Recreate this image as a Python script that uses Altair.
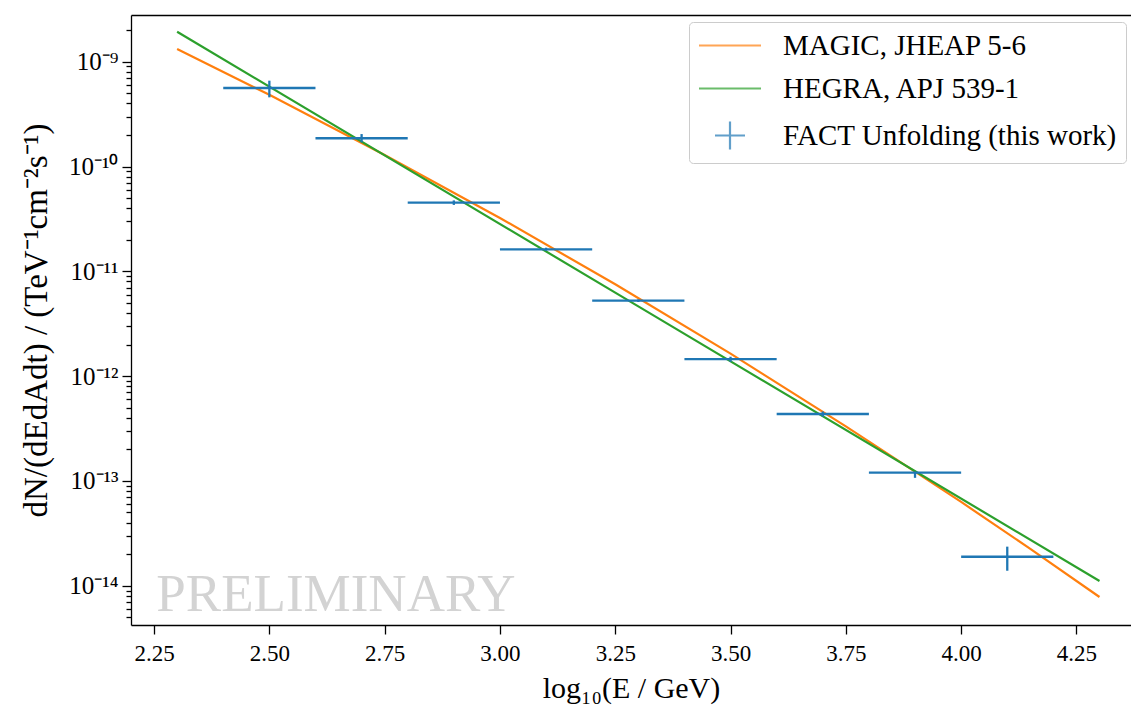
import math
import altair as alt
import pandas as pd

# ---------------- data ----------------
magic_name = "MAGIC, JHEAP 5-6"
hegra_name = "HEGRA, APJ 539-1"
fact_name = "FACT Unfolding (this work)"

magic_x = [2.3, 2.5, 2.75, 3.0, 3.25, 3.5, 3.75, 4.0, 4.15, 4.3]
magic_y = [1.32e-9, 4.83e-10, 1.29e-10, 3.23e-11, 7.52e-12, 1.64e-12, 3.32e-13, 6.30e-14, 2.25e-14, 7.81e-15]

hegra_x = [2.3, 3.3, 4.3]
hegra_y = [1.93e-9, 4.63e-12, 1.11e-14]

fact_x = [2.5, 2.7, 2.9, 3.1, 3.3, 3.5, 3.7, 3.9, 4.1]
fact_xerr = [0.1, 0.1, 0.1, 0.1, 0.1, 0.1, 0.1, 0.1, 0.1]
fact_y = [5.61e-10, 1.86e-10, 4.52e-11, 1.62e-11, 5.25e-12, 1.45e-12, 4.35e-13, 1.20e-13, 1.89e-14]
fact_ylo = [4.57e-10, 1.70e-10, 4.30e-11, 1.57e-11, 5.10e-12, 1.37e-12, 4.10e-13, 1.07e-13, 1.39e-14]
fact_yhi = [6.59e-10, 2.04e-10, 4.75e-11, 1.68e-11, 5.40e-12, 1.53e-12, 4.60e-13, 1.22e-13, 2.36e-14]

x_ticks = [2.25, 2.50, 2.75, 3.00, 3.25, 3.50, 3.75, 4.00, 4.25]
y_major_ticks = [1e-9, 1e-10, 1e-11, 1e-12, 1e-13, 1e-14]
y_major_labels = ["10⁻⁹", "10⁻¹⁰", "10⁻¹¹", "10⁻¹²", "10⁻¹³", "10⁻¹⁴"]
y_minor_mult = [2, 3, 4, 5, 6, 7, 8, 9]

x_domain = [2.2, 4.3683]
y_domain = [4.22e-15, 2.79e-9]

watermark_text = ["PRELIMINARY"]
watermark_x = [2.255]
watermark_y = [5.74e-15]

# ---------------- styling ----------------
SERIF = "Liberation Serif"
C_MAGIC = "#ff7f0e"
C_HEGRA = "#2ca02c"
C_FACT = "#1f77b4"

y_minor_ticks = [m * d for d in [1e-15] + y_major_ticks for m in y_minor_mult
                 if y_domain[0] <= m * d <= y_domain[1]]

label_expr = " : ".join(
    f"round(log(datum.value)/LN10) == {round(math.log10(v))} ? '{t}'"
    for v, t in zip(y_major_ticks, y_major_labels)
) + " : ''"

magic_df = pd.DataFrame({"x": magic_x, "y": magic_y})
hegra_df = pd.DataFrame({"x": hegra_x, "y": hegra_y})
fact_df = pd.DataFrame({
    "x": fact_x,
    "x_lo": [a - b for a, b in zip(fact_x, fact_xerr)],
    "x_hi": [a + b for a, b in zip(fact_x, fact_xerr)],
    "y": fact_y, "y_lo": fact_ylo, "y_hi": fact_yhi,
    "series": [fact_name] * len(fact_x),
})
wm_df = pd.DataFrame({"x": watermark_x, "y": watermark_y, "t": watermark_text})

xscale = alt.Scale(domain=x_domain, nice=False, zero=False)
yscale = alt.Scale(type="log", domain=y_domain, nice=False)

x_axis = alt.Axis(
    orient="bottom", values=x_ticks, format=".2f", grid=False,
    title="log₁₀(E / GeV)", titleFontSize=30, tickSize=9, labelPadding=8, titlePadding=8,
)
y_axis_major = alt.Axis(
    orient="left", values=y_major_ticks, labelExpr=label_expr, grid=False,
    title="dN/(dEdAdt) / (TeV⁻¹cm⁻²s⁻¹)", titleFontSize=33, tickSize=9,
    labelFontSize=25, labelPadding=4, titlePadding=15,
)
y_axis_minor = alt.Axis(
    orient="left", values=y_minor_ticks, labels=False, grid=False, domain=False,
    title=None, tickSize=5,
)

X = lambda f, ax=None: alt.X(f, type="quantitative", scale=xscale, axis=ax)
Y = lambda f, ax=None: alt.Y(f, type="quantitative", scale=yscale, axis=ax)

watermark = alt.Chart(wm_df).mark_text(
    align="left", baseline="alphabetic", font=SERIF, fontSize=53, color="#d3d3d3"
).encode(
    x=alt.X("x:Q", scale=xscale,
            axis=alt.Axis(orient="top", labels=False, ticks=False, title=None,
                          grid=False, domain=True)),
    y=Y("y"),
    text="t:N",
)

magic = alt.Chart(magic_df).mark_line(color=C_MAGIC, strokeWidth=2.2, clip=True).encode(
    x=X("x", x_axis), y=Y("y", y_axis_major)
)
hegra = alt.Chart(hegra_df).mark_line(color=C_HEGRA, strokeWidth=2.2, clip=True).encode(
    x=X("x"), y=Y("y", y_axis_minor)
)
xbars = alt.Chart(fact_df).mark_rule(color=C_FACT, strokeWidth=2.3).encode(
    x=X("x_lo"), x2="x_hi", y=Y("y")
)
ybars = alt.Chart(fact_df).mark_rule(color=C_FACT, strokeWidth=2.3).encode(
    x=X("x"), y=Y("y_lo"), y2="y_hi"
)

legend_domain = [magic_name, hegra_name, fact_name]
line_path = "M-3.1,0L3.1,0"
plus_path = "M-1.5,0L1.5,0M0,-1.4L0,1.4"
legend_layer = alt.Chart(fact_df).mark_point(size=0, filled=False).encode(
    x=X("x"), y=Y("y"),
    color=alt.Color("series:N", scale=alt.Scale(domain=legend_domain,
                                                range=[C_MAGIC, C_HEGRA, C_FACT]),
                    legend=alt.Legend(
                        title=None, orient="none", legendX=558, legendY=7,
                        symbolSize=400, symbolStrokeWidth=2.2, symbolOffset=17.5,
                        labelOffset=38.5, labelFont=SERIF, labelFontSize=29,
                        labelColor="black", labelLimit=600, rowPadding=13,
                        padding=9, strokeColor="#cccccc", fillColor="white",
                        cornerRadius=4)),
    shape=alt.Shape("series:N", scale=alt.Scale(domain=legend_domain,
                                                range=[line_path, line_path, plus_path]),
                    legend=alt.Legend(title=None, orient="none", legendX=558, legendY=7)),
)

chart = alt.layer(watermark, magic, hegra, xbars, ybars, legend_layer).resolve_axis(
    y="independent"
).properties(
    width=1000, height=610,
    autosize=alt.AutoSizeParams(type="none"),
    padding={"left": 123, "top": 7, "right": 0, "bottom": 80},
).configure_view(stroke=None).configure_axis(
    labelFont=SERIF, labelFontSize=23, labelColor="black",
    titleFont=SERIF, titleFontWeight="normal", titleColor="black",
    domainColor="black", domainWidth=1.3, tickColor="black", tickWidth=1.3,
)

chart.save("out.html", embed_options={"renderer": "svg", "actions": False})
